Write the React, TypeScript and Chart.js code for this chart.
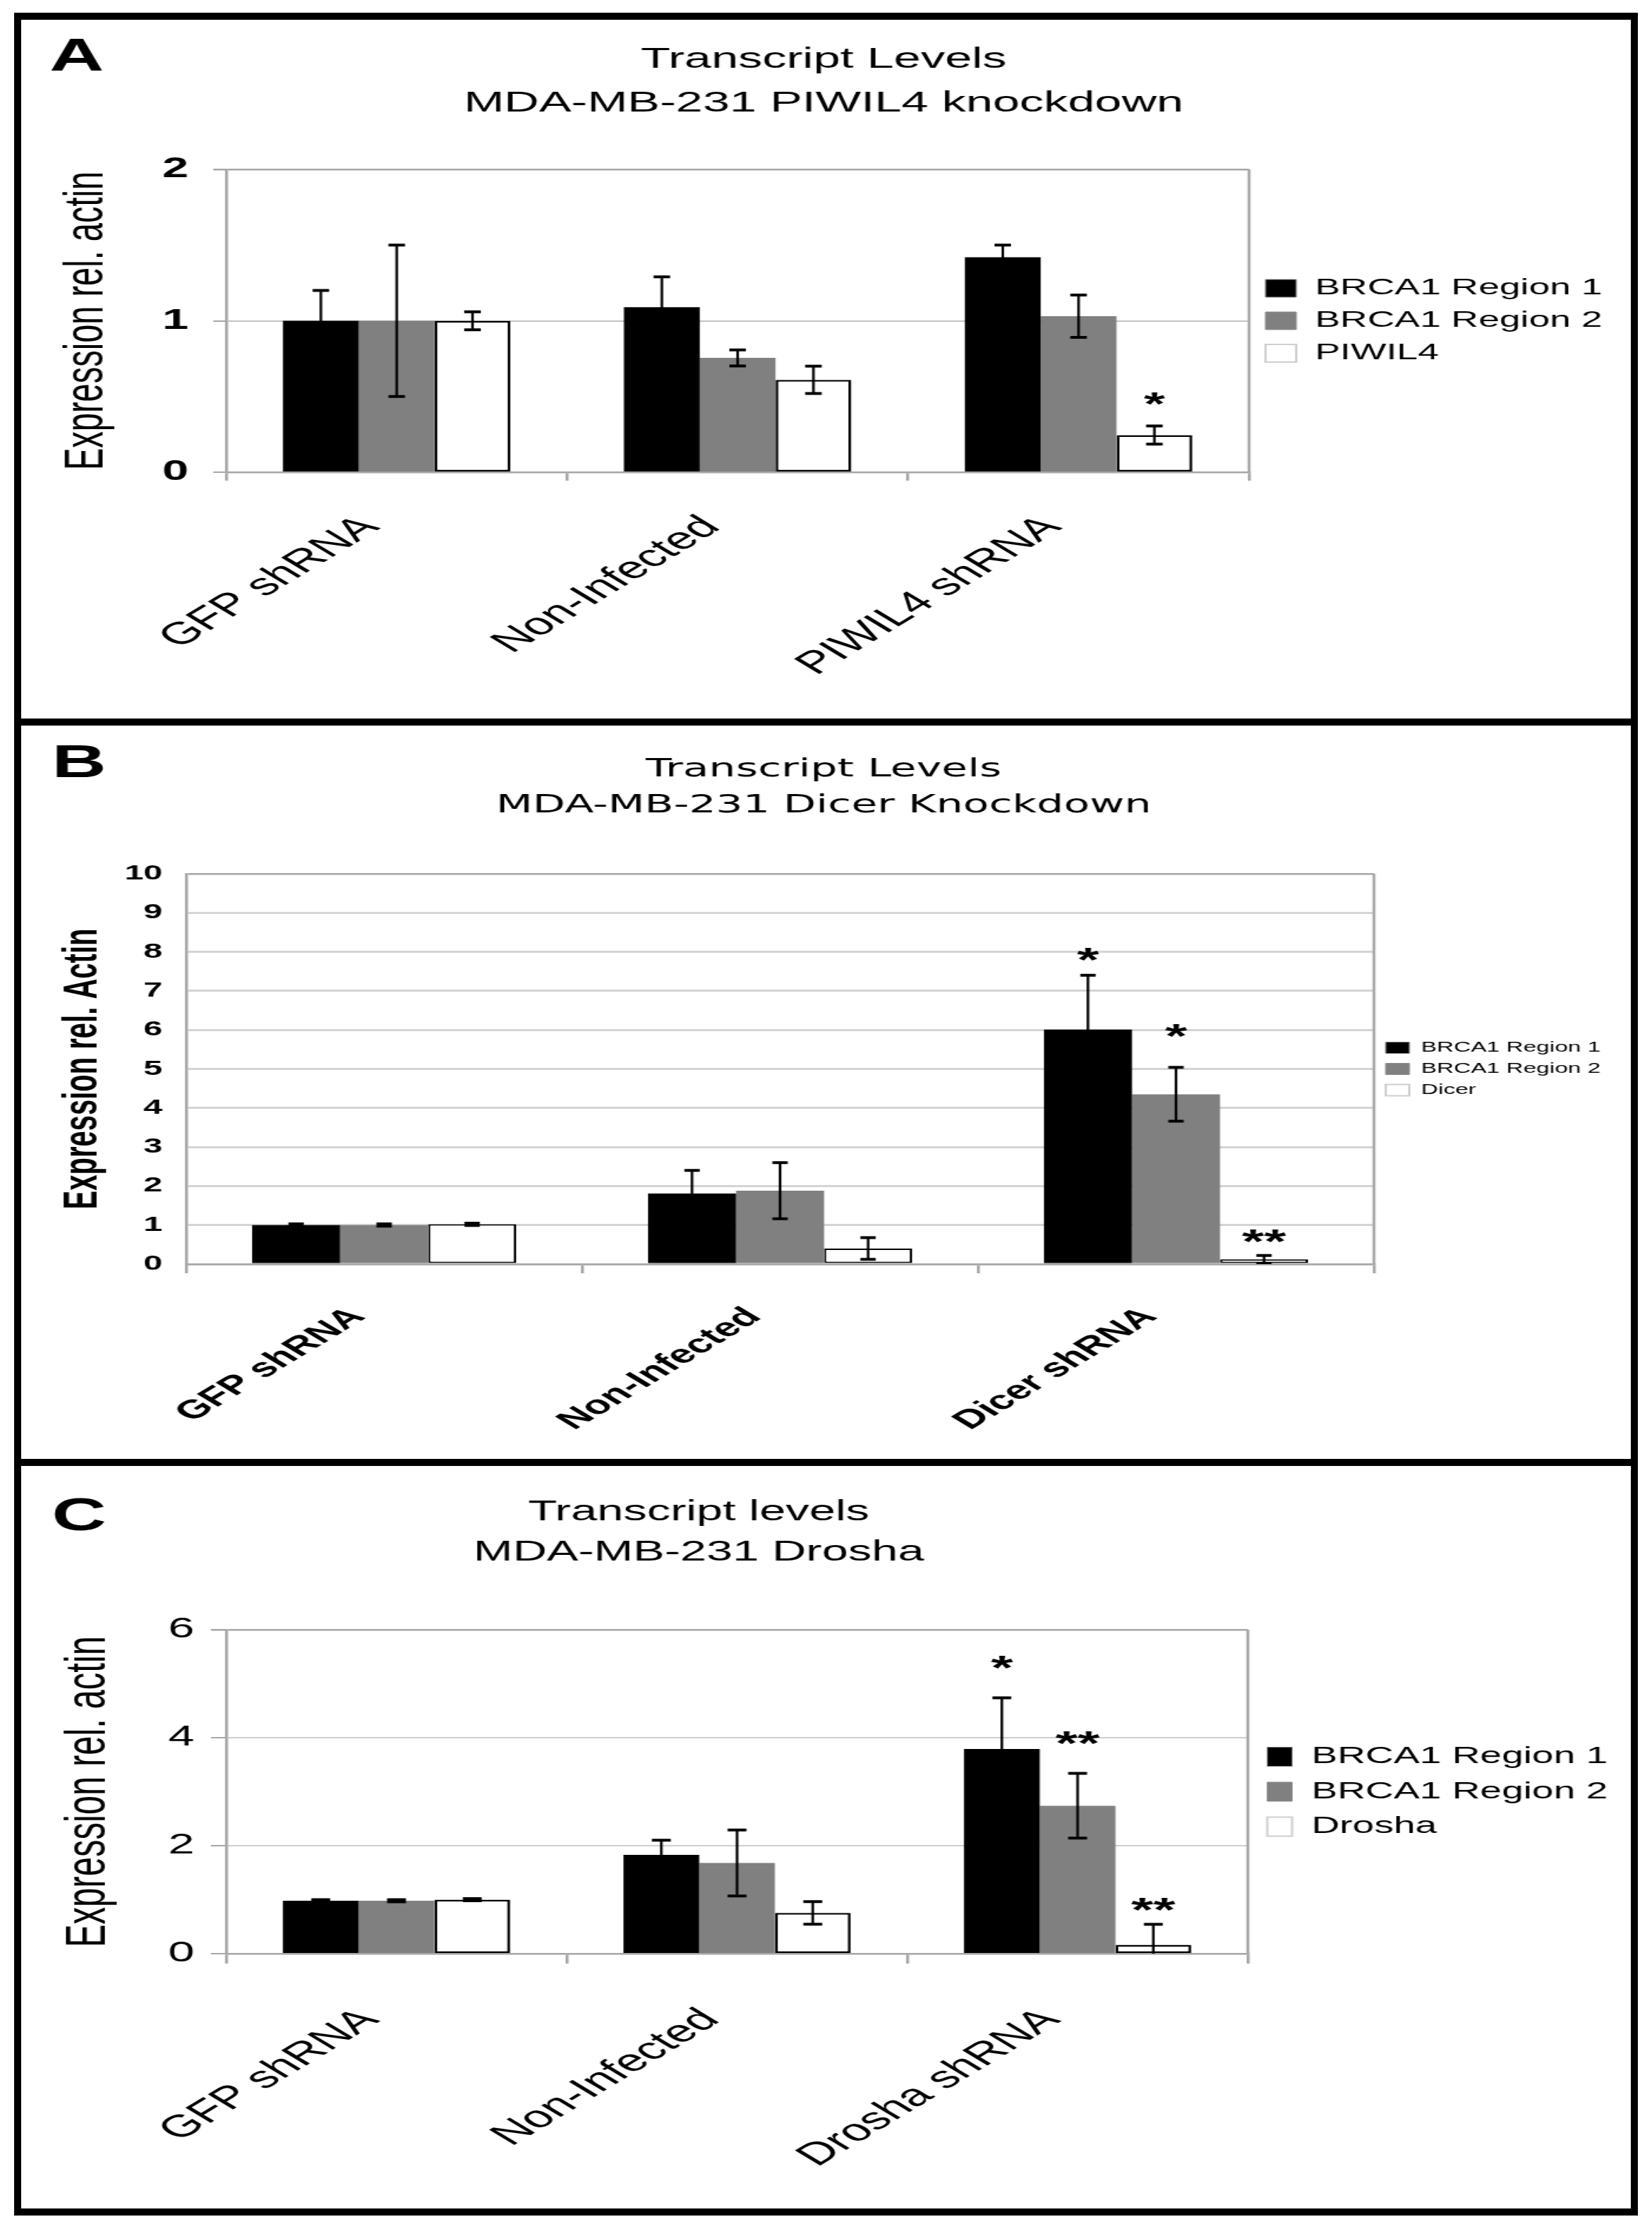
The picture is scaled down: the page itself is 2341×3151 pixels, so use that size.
import React, { useEffect, useRef } from "react";
import { Chart, registerables } from "chart.js";

Chart.register(...registerables);

// ---------------- data ----------------
// Panel A
const categoriesA = ["GFP shRNA", "Non-Infected", "PIWIL4 shRNA"];
const region1A = [1.0, 1.09, 1.42];
const region1ErrA = [0.2, 0.2, 0.08];
const region2A = [1.0, 0.755, 1.03];
const region2ErrA = [0.5, 0.053, 0.14];
const piwil4A = [1.0, 0.61, 0.245];
const piwil4ErrA = [0.06, 0.09, 0.06];
const region1StarA: (number | null)[] = [null, null, null];
const region2StarA: (number | null)[] = [null, null, null];
const piwil4StarA: (number | null)[] = [null, null, 0.5];
const starTextA = ["*", "*", "*"];
const yTicksA = [0, 1, 2];

// Panel B
const categoriesB = ["GFP shRNA", "Non-Infected", "Dicer shRNA"];
const region1B = [1.0, 1.81, 6.01];
const region1ErrB = [0.03, 0.59, 1.39];
const region2B = [1.0, 1.88, 4.35];
const region2ErrB = [0.03, 0.72, 0.69];
const dicerB = [1.02, 0.4, 0.12];
const dicerErrB = [0.03, 0.28, 0.1];
const region1StarB: (number | null)[] = [null, null, 8.0];
const region2StarB: (number | null)[] = [null, null, 6.05];
const dicerStarB: (number | null)[] = [null, null, 0.78];
const starTextB = ["*", "*", "**"];
const yTicksB = [0, 1, 2, 3, 4, 5, 6, 7, 8, 9, 10];

// Panel C
const categoriesC = ["GFP shRNA", "Non-Infected", "Drosha shRNA"];
const region1C = [0.98, 1.83, 3.79];
const region1ErrC = [0.02, 0.27, 0.95];
const region2C = [0.98, 1.68, 2.74];
const region2ErrC = [0.02, 0.61, 0.6];
const droshaC = [1.0, 0.755, 0.164];
const droshaErrC = [0.02, 0.21, 0.38];
const region1StarC: (number | null)[] = [null, null, 5.44];
const region2StarC: (number | null)[] = [null, null, 4.05];
const droshaStarC: (number | null)[] = [null, null, 0.96];
const starTextC = ["*", "**", "**"];
const yTicksC = [0, 2, 4, 6];

// ---------------- styling ----------------
const SANS = "'Liberation Sans', Arial, Helvetica, sans-serif";
const VERDANA = "'DejaVu Sans', Verdana, sans-serif";
const STRETCH = 1.67; // the reference is horizontally stretched
const CANVAS_W = 1366;
const BAR_FILL = ["#000000", "#808080", "#ffffff"];
const LEGEND_STROKE = ["#7a7a7a", "#8a8a8a", "#cfcfcf"];
const LEGEND_LW = [1, 1, 2];

type Series = {
  label: string;
  data: number[];
  err: number[];
  stars: (number | null)[];
  starText: string;
};

type PanelCfg = {
  cssTop: number;
  height: number;
  letter: string;
  letterX: number;
  letterY: number;
  letterSize: number;
  titleLines: string[];
  titleFamily: string;
  titleSize: number;
  titleX: number;
  titleYs: number[];
  categories: string[];
  series: Series[];
  yTicks: number[];
  chartLeft: number;
  chartRight: number;
  chartTop: number;
  chartBottom: number;
  yTickSize: number;
  yTickWeight: string;
  yTickLen: number;
  yTickPad: number;
  yTitle: string;
  yTitleSize: number;
  yTitleWeight: string;
  yTitlePad: number;
  xSize: number;
  xWeight: string;
  xTickLen: number;
  xPad: number;
  xLabelOffset: number;
  legendSize: number;
  legendBoxW: number;
  legendBoxH: number;
  legendPad: number;
  legendMaxW: number;
  gridColor: string;
  gridWidth: number;
  frameColor: string;
  frameWidth: number;
  capHalf: number;
  stemLw: number;
  capLw: number;
  starSize: number;
  whiteBorder: number;
};

function makeOverlay(cfg: PanelCfg) {
  return {
    id: "overlay" + cfg.letter,
    afterLayout(chart: any) {
      // let the legend draw its full text (the layout width stays clamped)
      const lg = chart.legend;
      if (lg) {
        lg.right = chart.width;
        lg.width = lg.right - lg.left;
      }
    },
    afterDatasetsDraw(chart: any) {
      const { ctx, chartArea: ca } = chart;
      const ys = chart.scales.y;
      ctx.save();
      // right frame line
      ctx.strokeStyle = cfg.frameColor;
      ctx.lineWidth = cfg.frameWidth;
      ctx.beginPath();
      ctx.moveTo(ca.right, ca.top);
      ctx.lineTo(ca.right, ca.bottom);
      ctx.stroke();

      // error bars
      ctx.save();
      ctx.beginPath();
      ctx.rect(ca.left, ca.top - 100, ca.right - ca.left, ca.bottom - ca.top + 100);
      ctx.clip();
      ctx.strokeStyle = "#000";
      cfg.series.forEach((s, di) => {
        const meta = chart.getDatasetMeta(di);
        meta.data.forEach((el: any, i: number) => {
          const v = s.data[i];
          const e = s.err[i];
          const x = el.x;
          const yt = ys.getPixelForValue(v + e);
          const ybRaw = ys.getPixelForValue(v - e);
          const yb = Math.min(ybRaw, ca.bottom);
          ctx.lineWidth = cfg.stemLw;
          ctx.beginPath();
          ctx.moveTo(x, yt);
          ctx.lineTo(x, yb);
          ctx.stroke();
          ctx.lineWidth = cfg.capLw;
          ctx.beginPath();
          ctx.moveTo(x - cfg.capHalf, yt);
          ctx.lineTo(x + cfg.capHalf, yt);
          if (ybRaw <= ca.bottom) {
            ctx.moveTo(x - cfg.capHalf, yb);
            ctx.lineTo(x + cfg.capHalf, yb);
          }
          ctx.stroke();
        });
      });
      ctx.restore();

      // significance stars
      ctx.fillStyle = "#000";
      ctx.font = `bold ${cfg.starSize}px ${SANS}`;
      ctx.textAlign = "center";
      ctx.textBaseline = "alphabetic";
      cfg.series.forEach((s, di) => {
        const meta = chart.getDatasetMeta(di);
        s.stars.forEach((sv, i) => {
          if (sv == null) return;
          const x = meta.data[i].x;
          const y = ys.getPixelForValue(sv) + 0.575 * cfg.starSize;
          ctx.fillText(s.starText, x, y);
        });
      });
      ctx.restore();
    },
    afterDraw(chart: any) {
      const { ctx } = chart;
      ctx.save();
      ctx.fillStyle = "#000";
      ctx.textBaseline = "middle";
      ctx.textAlign = "center";
      ctx.font = `${cfg.titleSize}px ${cfg.titleFamily}`;
      cfg.titleLines.forEach((t, i) => ctx.fillText(t, cfg.titleX, cfg.titleYs[i]));
      ctx.textAlign = "left";
      ctx.font = `bold ${cfg.letterSize}px ${SANS}`;
      ctx.fillText(cfg.letter, cfg.letterX, cfg.letterY);
      ctx.restore();
    },
  };
}

function buildConfig(cfg: PanelCfg): any {
  const yMin = cfg.yTicks[0];
  const yMax = cfg.yTicks[cfg.yTicks.length - 1];
  const step = cfg.yTicks[1] - cfg.yTicks[0];
  return {
    type: "bar",
    data: {
      labels: cfg.categories,
      datasets: cfg.series.map((s, i) => ({
        label: s.label,
        data: s.data,
        backgroundColor: BAR_FILL[i],
        borderColor: "#000",
        borderWidth: i === 2 ? cfg.whiteBorder : 0,
        borderSkipped: i === 2 ? false : "start",
        categoryPercentage: 0.667,
        barPercentage: 1.0,
      })),
    },
    options: {
      responsive: false,
      animation: false,
      devicePixelRatio: 1,
      events: [],
      layout: {
        padding: {
          left: 0,
          top: cfg.chartTop,
          right: CANVAS_W - cfg.chartRight - cfg.legendMaxW,
          bottom: 0,
        },
      },
      plugins: {
        title: { display: false },
        tooltip: { enabled: false },
        legend: {
          display: true,
          position: "right",
          align: "center",
          fullSize: false,
          maxWidth: cfg.legendMaxW,
          labels: {
            color: "#000",
            font: { family: SANS, size: cfg.legendSize },
            boxWidth: cfg.legendBoxW,
            boxHeight: cfg.legendBoxH,
            padding: cfg.legendPad,
            generateLabels: (chart: any) => {
              const items = (Chart as any).defaults.plugins.legend.labels.generateLabels(chart);
              return items.map((it: any, i: number) => ({
                ...it,
                fillStyle: BAR_FILL[i],
                strokeStyle: LEGEND_STROKE[i],
                lineWidth: LEGEND_LW[i],
              }));
            },
          },
        },
      },
      scales: {
        x: {
          type: "category",
          offset: true,
          grid: {
            display: true,
            drawOnChartArea: false,
            drawTicks: true,
            tickLength: cfg.xTickLen,
            color: cfg.frameColor,
            lineWidth: cfg.frameWidth,
          },
          border: { display: true, color: cfg.frameColor, width: cfg.frameWidth },
          ticks: {
            autoSkip: false,
            minRotation: 45,
            maxRotation: 45,
            padding: cfg.xPad,
            labelOffset: cfg.xLabelOffset,
            color: "#000",
            font: { family: SANS, size: cfg.xSize, weight: cfg.xWeight },
          },
          afterFit: (s: any) => {
            s.height = cfg.height - cfg.chartBottom;
          },
        },
        y: {
          type: "linear",
          min: yMin,
          max: yMax,
          ticks: {
            stepSize: step,
            padding: cfg.yTickPad,
            color: "#000",
            font: { family: SANS, size: cfg.yTickSize, weight: cfg.yTickWeight },
          },
          grid: {
            color: (c: any) => (c.tick && c.tick.value === yMax ? cfg.frameColor : cfg.gridColor),
            lineWidth: (c: any) => (c.tick && c.tick.value === yMax ? cfg.frameWidth : cfg.gridWidth),
            drawTicks: cfg.yTickLen > 0,
            tickLength: cfg.yTickLen,
            tickColor: cfg.frameColor,
          },
          border: { display: true, color: cfg.frameColor, width: cfg.frameWidth },
          title: {
            display: true,
            text: cfg.yTitle,
            color: "#000",
            font: { family: SANS, size: cfg.yTitleSize, weight: cfg.yTitleWeight, lineHeight: 1 },
            padding: { top: cfg.yTitlePad, bottom: 0 },
          },
          afterFit: (s: any) => {
            s.width = cfg.chartLeft;
          },
        },
      },
    },
    plugins: [makeOverlay(cfg)],
  };
}

const panelA: PanelCfg = {
  cssTop: 28,
  height: 990,
  letter: "A",
  letterX: 24,
  letterY: 54,
  letterSize: 64,
  titleLines: ["Transcript Levels", "MDA-MB-231 PIWIL4 knockdown"],
  titleFamily: SANS,
  titleSize: 41,
  titleX: 681,
  titleYs: [57, 119],
  categories: categoriesA,
  series: [
    { label: "BRCA1 Region 1", data: region1A, err: region1ErrA, stars: region1StarA, starText: starTextA[0] },
    { label: "BRCA1 Region 2", data: region2A, err: region2ErrA, stars: region2StarA, starText: starTextA[1] },
    { label: "PIWIL4", data: piwil4A, err: piwil4ErrA, stars: piwil4StarA, starText: starTextA[2] },
  ],
  yTicks: yTicksA,
  chartLeft: 174,
  chartRight: 1042,
  chartTop: 212,
  chartBottom: 641,
  yTickSize: 40,
  yTickWeight: "bold",
  yTickLen: 11,
  yTickPad: 21,
  yTitle: "Expression rel. actin",
  yTitleSize: 47,
  yTitleWeight: "normal",
  yTitlePad: 33,
  xSize: 44,
  xWeight: "normal",
  xTickLen: 12,
  xPad: 40,
  xLabelOffset: -22,
  legendSize: 32,
  legendBoxW: 26,
  legendBoxH: 25,
  legendPad: 14,
  legendMaxW: 290,
  gridColor: "#c4c4c4",
  gridWidth: 2,
  frameColor: "#a6a6a6",
  frameWidth: 2.5,
  capHalf: 7,
  stemLw: 2.2,
  capLw: 4,
  starSize: 46,
  whiteBorder: 2.5,
};

const panelB: PanelCfg = {
  cssTop: 1028,
  height: 1039,
  letter: "B",
  letterX: 26,
  letterY: 55,
  letterSize: 64,
  titleLines: ["Transcript Levels", "MDA-MB-231 Dicer Knockdown"],
  titleFamily: VERDANA,
  titleSize: 36,
  titleX: 681,
  titleYs: [63, 114],
  categories: categoriesB,
  series: [
    { label: "BRCA1 Region 1", data: region1B, err: region1ErrB, stars: region1StarB, starText: starTextB[0] },
    { label: "BRCA1 Region 2", data: region2B, err: region2ErrB, stars: region2StarB, starText: starTextB[1] },
    { label: "Dicer", data: dicerB, err: dicerErrB, stars: dicerStarB, starText: starTextB[2] },
  ],
  yTicks: yTicksB,
  chartLeft: 140,
  chartRight: 1148,
  chartTop: 210,
  chartBottom: 763,
  yTickSize: 29,
  yTickWeight: "bold",
  yTickLen: 0,
  yTickPad: 20,
  yTitle: "Expression rel. Actin",
  yTitleSize: 40,
  yTitleWeight: "bold",
  yTitlePad: 33,
  xSize: 37,
  xWeight: "bold",
  xTickLen: 13,
  xPad: 40,
  xLabelOffset: -22,
  legendSize: 20,
  legendBoxW: 20,
  legendBoxH: 16,
  legendPad: 10,
  legendMaxW: 185,
  gridColor: "#d4d4d4",
  gridWidth: 3,
  frameColor: "#a6a6a6",
  frameWidth: 2.5,
  capHalf: 6.5,
  stemLw: 2.2,
  capLw: 4,
  starSize: 48,
  whiteBorder: 2,
};

const panelC: PanelCfg = {
  cssTop: 2077,
  height: 1051,
  letter: "C",
  letterX: 26,
  letterY: 73,
  letterSize: 64,
  titleLines: ["Transcript levels", "MDA-MB-231 Drosha"],
  titleFamily: SANS,
  titleSize: 40,
  titleX: 575,
  titleYs: [66, 123],
  categories: categoriesC,
  series: [
    { label: "BRCA1 Region 1", data: region1C, err: region1ErrC, stars: region1StarC, starText: starTextC[0] },
    { label: "BRCA1 Region 2", data: region2C, err: region2ErrC, stars: region2StarC, starText: starTextC[1] },
    { label: "Drosha", data: droshaC, err: droshaErrC, stars: droshaStarC, starText: starTextC[2] },
  ],
  yTicks: yTicksC,
  chartLeft: 174,
  chartRight: 1041,
  chartTop: 232,
  chartBottom: 691,
  yTickSize: 40,
  yTickWeight: "normal",
  yTickLen: 13,
  yTickPad: 14,
  yTitle: "Expression rel. actin",
  yTitleSize: 49,
  yTitleWeight: "normal",
  yTitlePad: 33,
  xSize: 44,
  xWeight: "normal",
  xTickLen: 14,
  xPad: 54,
  xLabelOffset: -22,
  legendSize: 33,
  legendBoxW: 21,
  legendBoxH: 27,
  legendPad: 16.5,
  legendMaxW: 295,
  gridColor: "#cfcfcf",
  gridWidth: 2,
  frameColor: "#a6a6a6",
  frameWidth: 2.5,
  capHalf: 8,
  stemLw: 2.2,
  capLw: 4,
  starSize: 48,
  whiteBorder: 2.5,
};

function Panel({ cfg }: { cfg: PanelCfg }) {
  const ref = useRef<HTMLCanvasElement | null>(null);
  useEffect(() => {
    if (!ref.current) return;
    const chart = new Chart(ref.current, buildConfig(cfg));
    return () => chart.destroy();
  }, [cfg]);
  return (
    <canvas
      ref={ref}
      width={CANVAS_W}
      height={cfg.height}
      style={{
        position: "absolute",
        left: 30,
        top: cfg.cssTop,
        width: CANVAS_W * STRETCH,
        height: cfg.height,
      }}
    />
  );
}

export default function App() {
  return (
    <div
      style={{
        position: "absolute",
        left: 0,
        top: 0,
        width: 2341,
        height: 3151,
        background: "#ffffff",
        overflow: "hidden",
      }}
    >
      <Panel cfg={panelA} />
      <Panel cfg={panelB} />
      <Panel cfg={panelC} />
      <div
        style={{
          position: "absolute",
          left: 20,
          top: 18,
          width: 2301,
          height: 3121,
          border: "10px solid #000",
          boxSizing: "border-box",
          pointerEvents: "none",
        }}
      />
      <div style={{ position: "absolute", left: 20, top: 1018, width: 2301, height: 10, background: "#000" }} />
      <div style={{ position: "absolute", left: 20, top: 2067, width: 2301, height: 10, background: "#000" }} />
    </div>
  );
}
